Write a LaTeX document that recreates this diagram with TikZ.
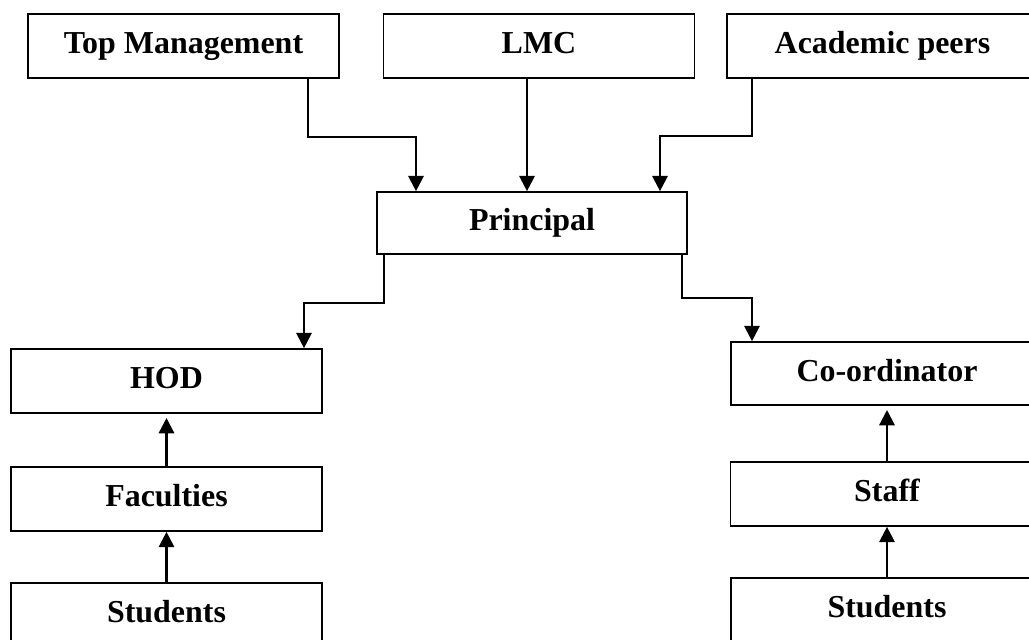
\documentclass[tikz,border=0pt]{standalone}
\usepackage{fontspec}
\setmainfont{Liberation Serif}
\usetikzlibrary{arrows.meta,calc}
\begin{document}
\begin{tikzpicture}[x=0.36pt, y=-0.36pt,
    box/.style={draw, line width=0.6pt, minimum width=311*0.36pt, minimum height=64*0.36pt,
      inner sep=0pt, text height=0.66em, text depth=0.1em, font=\fontsize{11.5}{13}\selectfont\bfseries},
    arr/.style={line width=0.8pt, -{Triangle[length=5.5pt,width=5.5pt]}}]
        \path[use as bounding box, clip] (0,0) rectangle (1029,640);
        \node[box] (tm) at (183.5,46) {Top Management};
        \node[box] (lmc) at (539,46) {LMC};
        \node[box] (ap) at (882.5,46) {Academic peers};
        \node[box, minimum width=310*0.36pt, minimum height=62*0.36pt] (princ) at (532,223) {Principal};
        \node[box] (hod) at (166.5,381) {HOD};
        \node[box] (fac) at (166.5,499) {Faculties};
        \node[box] (stuL) at (166.5,615) {Students};
        \node[box, minimum width=312*0.36pt, minimum height=63*0.36pt] (coord) at (887,373.5) {Co-ordinator};
        \node[box, minimum width=313*0.36pt] (staff) at (887,494) {Staff};
        \node[box, minimum width=312*0.36pt] (stuR) at (887,610) {Students};
        \draw[arr] ($(tm.south)+(124.5,0)$) -- ++(0,58) -| ($(princ.north)+(-116,0)$);
        \draw[arr] ($(lmc.south)+(-12,0)$) coordinate (l) -- (l |- princ.north);
        \draw[arr] ($(ap.south)+(-130.5,0)$) -- ++(0,57) -| ($(princ.north)+(128,0)$);
        \draw[arr] ($(princ.south)+(-148,0)$) -- ++(0,48) -| ($(hod.north)+(137.5,0)$);
        \draw[arr] ($(princ.south)+(150,0)$) -- ++(0,43) -| ($(coord.north)+(-135,0)$);
        \draw[arr] (fac.north) -- ([yshift=-1.5pt]hod.south);
        \draw[arr] (stuL.north) -- (fac.south);
        \draw[arr] (staff.north) -- ([yshift=-1.5pt]coord.south);
        \draw[arr] (stuR.north) -- (staff.south);
\end{tikzpicture}
\end{document}
